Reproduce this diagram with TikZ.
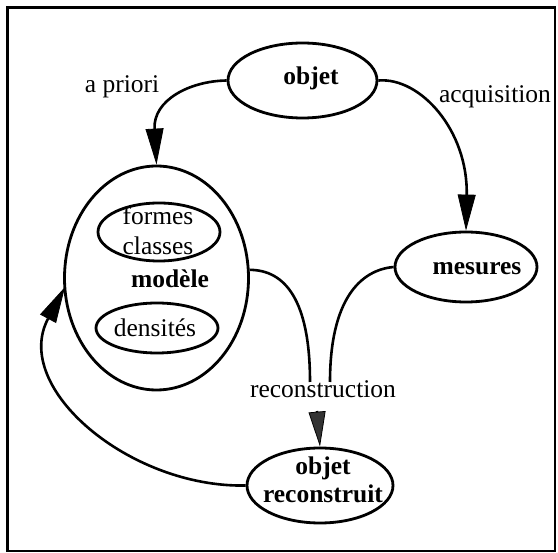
\documentclass[tikz,border=0pt]{standalone}
\usepackage{fontspec}
\setmainfont{Liberation Serif}
\usetikzlibrary{shapes.geometric,arrows.meta}
\tikzset{
  oval/.style={draw, ellipse, line width=2.8pt, inner sep=0pt},
  lbl/.style={anchor=base, inner sep=0pt, font=\fontsize{25.5}{29}\selectfont},
  blbl/.style={lbl, font=\fontsize{25.5}{29}\selectfont\bfseries},
  conn/.style={line width=2.6pt},
  bigtip/.style={-{Triangle[length=36pt,width=18pt,line width=0.8pt]}},
}
\begin{document}
\begin{tikzpicture}[x=1pt,y=-1pt]
\useasboundingbox (0,0) rectangle (558,553);
\draw[line width=2.8pt] (7.5,7.5) rectangle (555,551);
% ellipses
\node[oval, minimum width=149pt, minimum height=75pt] (objet) at (302.5,80.5) {};
\node[oval, minimum width=142pt, minimum height=70pt] (mesures) at (466,267) {};
\node[oval, minimum width=184pt, minimum height=224pt] (modele) at (156.5,278) {};
\node[oval, minimum width=122pt, minimum height=58pt] (formes) at (159,232) {};
\node[oval, minimum width=122pt, minimum height=50pt] (dens) at (157,328) {};
\node[oval, minimum width=146pt, minimum height=75pt] (orec) at (320,485.5) {};
% texts
\node[blbl] (tobjet) at (311,85) {objet};
\node[blbl] (tmes) at (477,275) {mesures};
\node[blbl] (tmod) at (170,288) {modèle};
\node[lbl] (tformes) at (158,225) {formes};
\node[lbl] (tclasses) at (158,255) {classes};
\node[lbl] (tdens) at (155,337) {densités};
\node[blbl] (torec1) at (323,475) {objet};
\node[blbl] (torec2) at (323,503) {reconstruit};
\node[lbl] (tapriori) at (122,93) {a priori};
\node[lbl] (tacq) at (495,103) {acquisition};
\node[lbl] (trec) at (323,398) {reconstruction};
% connector points
\coordinate (r1) at (310,382);
\coordinate (r2) at (330,382);
\coordinate (r3) at (317,411);
\coordinate (mtip) at (65,287);
% connectors
\draw[conn, bigtip] (objet.west) .. controls (190,81) and (153,100) .. (modele.north);
\draw[conn, bigtip] (objet.east) .. controls (420,77) and (468,130) .. (mesures.north);
\draw[conn] (modele.5) .. controls (285,270) and (310,300) .. (r1);
\draw[conn] (mesures.west) .. controls (360,270) and (330,300) .. (r2);
\draw[conn, -{Triangle[length=35pt,width=17pt,line width=0.8pt,fill=black!80]}, draw=black] (r3) -- (orec.north);
\draw[conn, bigtip] (orec.west) .. controls (130,488) and (11,388) .. (mtip);
\end{tikzpicture}
\end{document}
